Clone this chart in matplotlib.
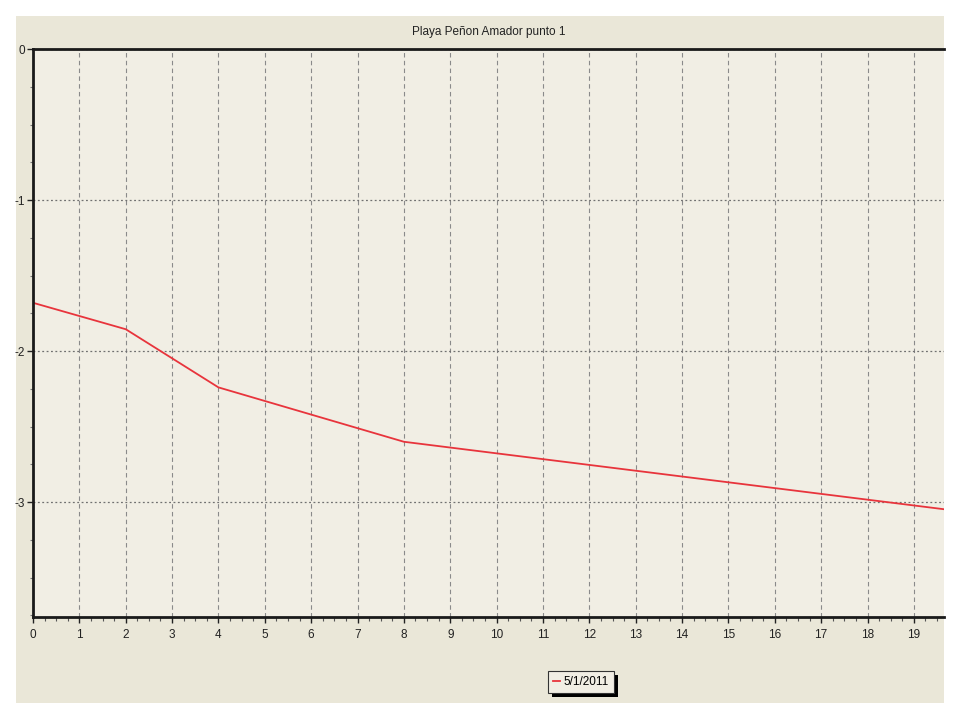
import matplotlib
matplotlib.use("Agg")
import matplotlib.pyplot as plt
from matplotlib.patches import Rectangle
from matplotlib.ticker import MultipleLocator

plt.rcParams['font.family'] = ['Liberation Sans Narrow', 'Liberation Sans', 'DejaVu Sans']
plt.rcParams['axes.unicode_minus'] = False

# data
depth_x = [0, 2, 4, 8, 20]
depth_y = [-1.68, -1.855, -2.24, -2.6, -3.06]
series_label = "5/1/2011"
title = "Playa Peñon Amador punto 1"

fig = plt.figure(figsize=(9.6, 7.2), dpi=100)
fig.patch.set_facecolor("white")

# beige panel behind the chart
panel = Rectangle((16 / 960, 1 - 703 / 720), 928 / 960, 687 / 720,
                  transform=fig.transFigure, facecolor="#EAE7D8",
                  edgecolor="none", zorder=-10)
fig.add_artist(panel)

ax = fig.add_axes([33 / 960, 1 - 617 / 720, 911 / 960, 568 / 720])
ax.set_zorder(1)
ax.set_facecolor("#F1EEE4")

ax.plot(depth_x, depth_y, color="#E8343C", linewidth=1.3, label=series_label)

ax.set_xlim(0, 19.65)
ax.set_ylim(-3.76, 0)
ax.xaxis.set_major_locator(MultipleLocator(1))
ax.xaxis.set_minor_locator(MultipleLocator(0.25))
ax.yaxis.set_major_locator(MultipleLocator(1))
ax.yaxis.set_minor_locator(MultipleLocator(0.25))

ax.grid(axis="x", which="major", color="#8A8A8A", linestyle=(0, (4, 3)), linewidth=0.8)
ax.grid(axis="y", which="major", color="#707070", linestyle=(0, (1.5, 2)), linewidth=0.9)

for side in ["left", "bottom", "top"]:
    ax.spines[side].set_linewidth(2)
    ax.spines[side].set_color("#1a1a1a")
ax.spines["right"].set_visible(False)

ax.tick_params(axis="both", which="major", length=4, width=1, labelsize=8.5, colors="#222222")
ax.tick_params(axis="x", which="minor", length=3, width=0.8, colors="#555555")
ax.tick_params(axis="y", which="minor", length=2, width=0.8, colors="#777777")
ax.tick_params(axis="x", pad=5)
ax.tick_params(axis="y", pad=2)

ax.set_title(title, fontsize=8.5, pad=10, color="#222222")

leg = ax.legend(loc="upper center", bbox_to_anchor=(0.6015, -0.085), fontsize=8.5,
                frameon=True, fancybox=False, framealpha=1, handlelength=0.6,
                handletextpad=0.3, borderpad=0.4, edgecolor="#333333")
leg.get_frame().set_facecolor("#F1EEE4")
leg.get_frame().set_linewidth(0.8)

# solid black drop shadow like the original legend box
fig.canvas.draw()
bb = leg.get_window_extent().transformed(fig.transFigure.inverted())
shadow = Rectangle((bb.x0 + 4 / 960, bb.y0 - 4 / 720), bb.width, bb.height,
                   transform=fig.transFigure, facecolor="black",
                   edgecolor="none", zorder=0.5)
fig.add_artist(shadow)

fig.savefig("out.png", dpi=100)
